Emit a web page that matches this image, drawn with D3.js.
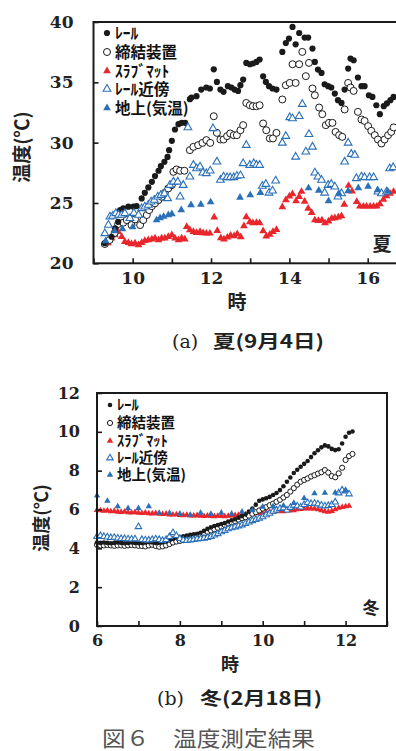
<!DOCTYPE html>
<html>
<head>
<meta charset="utf-8">
<script src="https://cdn.jsdelivr.net/npm/d3@7"></script>
<style>
  body { margin: 0; background: #fff; }
  svg { display: block; }
</style>
</head>
<body>
<svg id="chart"></svg>
<script>
// temperature measurement, summer / winter panels

///////////////////////////////////////////
//////////////// Constants ////////////////
///////////////////////////////////////////
const width = 396
const height = 751

const inkColour = "#1a1a1a"
const redColour = "#e8262b"
const blueColour = "#2a70b8"
const captionGrey = "#555"

const serif = '"DejaVu Serif","Liberation Serif",serif'
const jp = '"Noto Sans CJK JP","Noto Sans",sans-serif'

///////////////////////////////////////////
////////////////// Data ///////////////////
///////////////////////////////////////////
const legendLabels = ["ﾚｰﾙ", "締結装置", "ｽﾗﾌﾞﾏｯﾄ", "ﾚｰﾙ近傍", "地上(気温)"]

// (a) summer, 9/4 : [hour, °C]
const sumRail = [
  [9.29,21.66],[9.46,22.2],[9.55,22.9],[9.63,23.44],[9.68,24.41],[9.76,24.55],[9.89,24.69],[10.02,24.69],
  [10.10,24.74],[10.23,25.38],[10.31,25.84],[10.40,26.29],[10.49,26.75],[10.57,27.23],[10.66,27.67],[10.72,28.05],
  [10.81,28.41],[10.89,28.82],[10.93,29.38],[11.00,30.15],[11.08,31.09],[11.17,31.53],[11.25,31.64],[11.34,31.64],
  [11.46,33.6],[11.50,33.74],[11.63,33.85],[11.75,34.40],[11.88,34.57],[11.97,34.49],[12.07,36.08],[12.15,35.03],
  [12.24,34.40],[12.32,34.21],[12.43,34.68],[12.52,34.57],[12.60,34.40],[12.69,34.29],[12.75,34.76],[12.82,35.23],
  [12.90,36.61],[12.99,36.50],[13.07,36.56],[13.16,36.69],[13.24,36.89],[13.33,35.50],[13.40,35.03],[13.48,34.68],
  [13.57,34.49],[13.67,34.40],[13.82,37.52],[13.91,38.26],[13.99,38.63],[14.08,39.59],[14.16,38.15],[14.25,39.09],
  [14.39,38.71],[14.48,38.71],[14.59,37.80],[14.65,36.69],[14.73,36.06],[14.82,35.78],[14.90,34.84],[14.99,34.68],
  [15.07,34.57],[15.16,34.07],[15.24,33.52],[15.33,33.29],[15.41,34.40],[15.50,36.14],[15.56,36.97],[15.64,36.83],
  [15.75,35.40],[15.84,34.68],[15.92,34.68],[16.03,33.93],[16.12,33.79],[16.22,33.10],[16.31,32.36],[16.41,33.02],
  [16.49,33.25],[16.58,33.52],[16.66,33.79]
]
const sumClamp = [
  [9.29,21.60],[9.41,21.93],[9.54,22.51],[9.63,23.25],[9.76,23.36],[9.85,23.58],[9.97,23.17],[10.06,23.64],
  [10.19,23.17],[10.27,23.58],[10.36,24.00],[10.42,24.41],[10.49,24.74],[10.57,24.97],[10.66,25.24],[10.74,25.51],
  [10.82,25.84],[10.91,26.21],[11.00,26.48],[11.04,27.58],[11.12,27.78],[11.21,27.67],[11.32,27.67],[11.46,29.38],
  [11.55,29.65],[11.67,29.79],[11.78,29.98],[11.88,30.21],[11.98,29.98],[12.07,32.19],[12.15,30.81],[12.24,30.26],
  [12.32,30.26],[12.41,30.54],[12.49,30.76],[12.58,30.62],[12.66,30.62],[12.75,31.03],[12.82,31.45],[12.90,33.29],
  [12.99,33.10],[13.07,33.02],[13.16,33.02],[13.24,33.10],[13.33,31.59],[13.41,31.03],[13.50,30.35],[13.58,30.35],
  [13.67,30.81],[13.82,33.58],[13.91,34.76],[14.01,34.95],[14.08,36.50],[14.16,34.95],[14.25,36.50],[14.33,37.52],
  [14.42,35.51],[14.50,36.61],[14.59,34.49],[14.65,33.93],[14.76,32.91],[14.84,32.36],[14.93,31.45],[15.01,31.64],
  [15.10,31.64],[15.18,30.89],[15.27,30.62],[15.35,30.48],[15.41,32.75],[15.50,34.95],[15.56,34.57],[15.64,34.29],
  [15.75,32.55],[15.84,31.92],[15.92,31.80],[16.01,31.37],[16.09,30.98],[16.18,30.62],[16.26,30.26],[16.35,29.93],
  [16.43,30.26],[16.52,30.62],[16.60,30.89],[16.66,31.26]
]
const sumMat = [
  [9.29,21.60],[9.37,21.68],[9.46,22.07],[9.55,22.34],[9.63,22.62],[9.72,22.20],[9.80,21.79],[9.89,21.71],
  [9.97,21.60],[10.06,21.66],[10.15,21.51],[10.23,21.71],[10.31,21.87],[10.40,21.93],[10.49,21.99],[10.57,22.07],
  [10.66,21.93],[10.74,22.07],[10.82,22.07],[10.91,22.20],[11.00,22.34],[11.08,22.07],[11.17,21.93],[11.25,22.07],
  [11.33,21.99],[11.38,23.03],[11.46,22.76],[11.55,22.62],[11.63,22.53],[11.72,22.62],[11.80,22.51],[11.88,22.48],
  [11.97,22.48],[12.08,23.81],[12.16,22.70],[12.25,22.09],[12.33,21.99],[12.42,22.15],[12.50,22.30],[12.59,22.26],
  [12.67,22.43],[12.76,22.18],[12.84,23.09],[12.90,23.83],[12.99,23.42],[13.07,23.34],[13.16,23.36],[13.24,23.34],
  [13.33,22.67],[13.41,22.24],[13.50,22.38],[13.58,22.62],[13.67,22.78],[13.82,24.66],[13.91,25.24],[14.00,25.55],
  [14.08,25.74],[14.17,25.16],[14.25,25.51],[14.31,25.94],[14.39,25.12],[14.48,24.55],[14.57,24.19],[14.65,23.58],
  [14.74,23.53],[14.83,23.56],[14.91,23.34],[15.00,23.48],[15.08,23.71],[15.16,23.75],[15.25,23.81],[15.33,23.92],
  [15.40,24.87],[15.51,26.44],[15.60,25.97],[15.72,25.10],[15.80,24.72],[15.89,24.72],[15.97,24.72],[16.06,24.72],
  [16.15,24.72],[16.23,24.72],[16.31,24.91],[16.40,25.28],[16.48,25.57],[16.57,25.78],[16.66,25.94]
]
const sumNear = [
  [9.29,22.48],[9.38,23.17],[9.42,23.86],[9.49,23.92],[9.57,24.14],[9.64,24.00],[9.72,24.00],[9.80,24.14],
  [9.93,23.73],[10.03,24.16],[10.15,24.00],[10.23,24.55],[10.31,24.69],[10.40,24.83],[10.47,25.10],[10.55,25.24],
  [10.64,25.51],[10.72,25.65],[10.81,25.79],[10.89,25.38],[10.95,26.48],[11.04,26.75],[11.15,26.75],[11.21,25.51],
  [11.29,26.48],[11.41,31.26],[11.46,27.17],[11.55,28.14],[11.63,27.86],[11.72,28.00],[11.79,27.50],[11.88,27.45],
  [11.98,27.67],[12.05,31.18],[12.15,28.41],[12.24,26.90],[12.32,27.17],[12.41,27.12],[12.49,27.12],[12.58,27.12],
  [12.66,27.23],[12.75,27.28],[12.82,28.28],[12.90,29.79],[12.99,28.14],[13.09,28.28],[13.16,28.14],[13.24,28.14],
  [13.31,26.40],[13.40,26.56],[13.48,25.84],[13.57,26.01],[13.65,26.84],[13.82,29.98],[13.91,30.54],[14.01,32.09],
  [14.08,32.00],[14.16,28.82],[14.25,32.19],[14.33,33.19],[14.42,29.24],[14.50,30.70],[14.59,29.65],[14.65,27.50],
  [14.73,27.17],[14.82,26.90],[14.90,25.84],[14.99,26.48],[15.07,26.56],[15.16,26.34],[15.24,25.51],[15.33,25.79],
  [15.41,28.41],[15.50,29.98],[15.58,29.05],[15.67,28.97],[15.71,27.04],[15.84,27.17],[15.92,27.12],[16.05,27.12],
  [16.15,27.12],[16.26,25.93],[16.35,25.79],[16.48,25.93],[16.56,27.86],[16.65,27.95]
]
const sumAir = [
  [9.31,21.85],[9.54,22.67],[9.74,22.84],[10.00,23.00],[10.61,23.58],[10.70,23.75],[10.79,23.87],[10.91,24.00],
  [11.00,24.08],[11.24,24.41],[11.49,24.83],[11.74,24.87],[11.99,25.07],[12.74,25.46],[13.00,25.65],[13.26,25.84],
  [14.49,26.23],[14.75,26.03],[15.00,25.16],[15.26,25.79],[15.50,25.99],[15.76,26.25],[16.01,26.37],[16.25,26.07],
  [16.51,25.97]
]

// (b) winter, 2/18 : readings every 5 min from 6:00 (air every 15 min)
const winStart = 6
const winStep = 5 / 60
const airStep = 15 / 60
const winRail = [
  4.30,4.28,4.30,4.28,4.26,4.28,4.30,4.28,4.26,4.28,
  4.30,4.28,4.26,4.28,4.30,4.32,4.30,4.28,4.30,4.32,
  4.35,4.40,4.50,4.55,4.58,4.62,4.66,4.70,4.72,4.75,
  4.80,4.90,5.00,5.08,5.15,5.20,5.25,5.30,5.38,5.45,
  5.50,5.58,5.66,5.75,5.90,6.05,6.25,6.45,6.52,6.58,
  6.65,6.75,6.85,7.00,7.20,7.43,7.65,7.88,8.05,8.20,
  8.35,8.50,8.70,8.90,9.05,9.20,9.30,9.25,9.12,9.06,
  9.10,9.40,9.75,9.95,10.02
]
const winClamp = [
  4.18,4.15,4.15,4.17,4.15,4.13,4.15,4.15,4.13,4.15,
  4.17,4.15,4.13,4.12,4.10,4.15,4.18,4.12,4.08,4.10,
  4.15,4.22,4.30,4.35,4.38,4.42,4.46,4.50,4.58,4.62,
  4.68,4.75,4.85,4.92,4.98,5.05,5.12,5.20,5.27,5.33,
  5.40,5.48,5.55,5.60,5.68,5.78,5.86,5.95,6.05,6.12,
  6.22,6.30,6.40,6.50,6.62,6.75,6.92,7.10,7.28,7.43,
  7.52,7.60,7.70,7.77,7.85,7.92,8.03,7.90,7.72,7.66,
  7.86,8.15,8.55,8.75,8.86
]
const winMat = [
  5.97,5.95,5.93,5.95,5.90,5.92,5.88,5.87,5.89,5.85,
  5.84,5.86,5.82,5.81,5.83,5.80,5.79,5.81,5.77,5.76,
  5.78,5.74,5.73,5.75,5.71,5.70,5.72,5.69,5.68,5.70,
  5.67,5.66,5.68,5.66,5.65,5.67,5.66,5.64,5.67,5.68,
  5.70,5.72,5.71,5.74,5.76,5.75,5.80,5.82,5.80,5.86,
  5.87,5.86,5.90,5.92,5.90,5.94,5.96,5.95,6.00,6.02,
  6.04,6.06,6.05,6.04,6.00,5.95,5.90,5.88,5.92,6.00,
  6.08,6.12,6.16,6.18
]
const winNear = [
  4.60,4.65,4.60,4.58,4.55,4.56,4.52,4.50,4.50,4.48,
  4.47,4.48,5.11,4.45,4.43,4.42,4.45,4.48,4.45,4.40,
  4.45,4.60,4.80,4.65,4.50,4.42,4.40,4.42,4.45,4.48,
  4.50,4.52,4.55,4.60,4.68,4.75,4.85,4.92,5.00,5.05,
  5.10,5.15,5.20,5.28,5.35,5.42,5.48,5.55,5.62,5.72,
  5.80,5.90,5.97,6.05,6.08,5.97,6.10,6.22,6.18,6.12,
  6.25,6.35,6.30,6.32,6.28,6.22,6.18,6.20,6.25,6.38,
  6.85,7.00,6.95,6.80
]
const winAir = [
  6.72,6.44,6.16,6.06,6.06,6.16,5.82,5.82,5.78,5.72,
  5.82,5.77,5.83,5.78,5.88,5.95,6.14,6.16,6.20,6.33,
  6.58,6.83,6.85,6.87,6.97
]

const toPoints = (values, step) => values.map((v, i) => [winStart + i * step, v])

///////////////////////////////////////////
//////////// Marker styles ////////////////
///////////////////////////////////////////
const styles = [
  { shape: "dot" },
  { shape: "ring" },
  { shape: "tri", fill: redColour, stroke: "none", sw: 0 },
  { shape: "tri", fill: "#fff", stroke: blueColour, sw: 1.1 },
  { shape: "tri", fill: blueColour, stroke: "none", sw: 0 }
]

function addMark(parent, s, m) {
  if (s.shape === "dot") return parent.append("circle").attr("r", m.dot).attr("fill", inkColour)
  if (s.shape === "ring") return parent.append("circle").attr("r", m.ring)
    .attr("fill", "#fff").attr("stroke", inkColour).attr("stroke-width", 1)
  return parent.append("path")
    .attr("d", d3.symbol(d3.symbolTriangle, m.tri)())
    .attr("fill", s.fill)
    .attr("stroke", s.stroke)
    .attr("stroke-width", s.sw)
}

///////////////////////////////////////////
/////////////// Panel /////////////////////
///////////////////////////////////////////
function drawPanel(svg, p) {
  const g = svg.append("g")
  const x = d3.scaleLinear().domain(p.xDomain).range(p.xRange)
  const y = d3.scaleLinear().domain(p.yDomain).range(p.yRange)

  // series, drawn back to front
  const order = [2, 1, 0, 3, 4]
  order.forEach(k => {
    g.append("g").selectAll("g")
      .data(p.series[k])
      .join("g")
        .attr("transform", d => `translate(${x(d[0])},${y(d[1])})`)
        .each(function() { addMark(d3.select(this), styles[k], p.mark) })
  })

  // frame
  g.append("rect")
    .attr("x", p.xRange[0]).attr("y", p.yRange[1])
    .attr("width", p.xRange[1] - p.xRange[0])
    .attr("height", p.yRange[0] - p.yRange[1])
    .attr("fill", "none").attr("stroke", inkColour).attr("stroke-width", 2)

  // axes with inward ticks
  const yAxis = g.append("g")
    .attr("transform", `translate(${p.xRange[0]},0)`)
    .call(d3.axisLeft(y).tickValues(p.yTicks).tickSize(-5).tickPadding(p.yPad))
  const xAxis = g.append("g")
    .attr("transform", `translate(0,${p.yRange[0]})`)
    .call(d3.axisBottom(x).tickValues(p.xTicks).tickSize(-5).tickPadding(p.xPad)
      .tickFormat(d => d % 2 === 0 ? d : ""))
  ;[yAxis, xAxis].forEach(a => {
    a.select(".domain").remove()
    a.selectAll("line").attr("stroke", inkColour).attr("stroke-width", 1.6)
    a.selectAll("text").attr("fill", "#222")
      .attr("font-family", serif).attr("font-weight", "bold").attr("font-size", p.tickFont)
  })

  // legend
  const lg = g.append("g")
  legendLabels.forEach((label, k) => {
    const row = lg.append("g").attr("transform", `translate(${p.legend.x},${p.legend.rows[k]})`)
    addMark(row, styles[k], p.mark)
    row.append("text")
      .attr("x", p.legend.dx)
      .attr("dy", "0.36em")
      .attr("font-family", jp)
      .attr("font-weight", "bold")
      .attr("font-size", p.legend.font)
      .attr("fill", "#111")
      .text(label)
  })

  // axis titles
  g.append("text")
    .attr("transform", `translate(${p.yTitle[0]},${p.yTitle[1]}) rotate(-90)`)
    .attr("text-anchor", "middle").attr("dy", "0.36em")
    .attr("font-family", jp).attr("font-weight", "bold")
    .attr("font-size", p.titleFont).attr("fill", "#222")
    .text("温度(℃)")
  g.append("text")
    .attr("x", p.xTitle[0]).attr("y", p.xTitle[1])
    .attr("text-anchor", "middle")
    .attr("font-family", jp).attr("font-weight", "bold")
    .attr("font-size", p.titleFont).attr("fill", "#222")
    .text("時")

  // season mark
  g.append("text")
    .attr("x", p.season[0]).attr("y", p.season[1])
    .attr("text-anchor", "middle")
    .attr("font-family", jp).attr("font-weight", "bold")
    .attr("font-size", p.seasonFont).attr("fill", "#222")
    .text(p.season[2])

  // caption
  const cap = g.append("text").attr("y", p.caption.y).attr("fill", "#222")
  cap.append("tspan").attr("x", p.caption.x0)
    .attr("font-family", serif).attr("font-size", 19).text(p.caption.tag)
  cap.append("tspan").attr("x", p.caption.x1)
    .attr("font-family", jp).attr("font-weight", "bold").attr("font-size", 18)
    .attr("textLength", p.caption.len).attr("lengthAdjust", "spacingAndGlyphs")
    .text(p.caption.text)
}

///////////////////////////////////////////
/////////////// Draw //////////////////////
///////////////////////////////////////////
const svg = d3.select("#chart").attr("width", width).attr("height", height)
svg.append("rect").attr("width", width).attr("height", height).attr("fill", "#fff")

drawPanel(svg, {
  xDomain: [9, 17], xRange: [93.5, 406.9],
  yDomain: [20, 40], yRange: [263.3, 22],
  yTicks: [20, 25, 30, 35, 40], xTicks: d3.range(9, 18),
  yPad: 20, xPad: 9, tickFont: 17,
  series: [sumRail, sumClamp, sumMat, sumNear, sumAir],
  mark: { dot: 3.1, ring: 3.5, tri: 26 },
  legend: { x: 107, dx: 8, rows: [33, 52, 71, 89, 108], font: 15.5 },
  yTitle: [22, 147], xTitle: [237, 309], titleFont: 19,
  season: [382, 251, "夏"], seasonFont: 19,
  caption: { y: 348, x0: 172, x1: 213, tag: "(a)", text: "夏(9月4日)", len: 111 }
})

drawPanel(svg, {
  xDomain: [6, 13], xRange: [97, 387],
  yDomain: [0, 12], yRange: [626, 393],
  yTicks: d3.range(0, 13, 2), xTicks: d3.range(6, 14),
  yPad: 17, xPad: 9, tickFont: 16,
  series: [toPoints(winRail, winStep), toPoints(winClamp, winStep), toPoints(winMat, winStep),
           toPoints(winNear, winStep), toPoints(winAir, airStep)],
  mark: { dot: 2.3, ring: 2.6, tri: 18 },
  legend: { x: 110, dx: 7, rows: [405, 423, 441, 458, 475], font: 14.5 },
  yTitle: [42, 518], xTitle: [230, 671], titleFont: 18,
  season: [371, 614, "冬"], seasonFont: 17,
  caption: { y: 705, x0: 157, x1: 200, tag: "(b)", text: "冬(2月18日)", len: 122 }
})

svg.append("text")
  .attr("x", 102).attr("y", 746)
  .attr("font-family", jp).attr("font-size", 21)
  .attr("fill", captionGrey)
  .attr("textLength", 213).attr("lengthAdjust", "spacingAndGlyphs")
  .text("図６　温度測定結果")
</script>
</body>
</html>
